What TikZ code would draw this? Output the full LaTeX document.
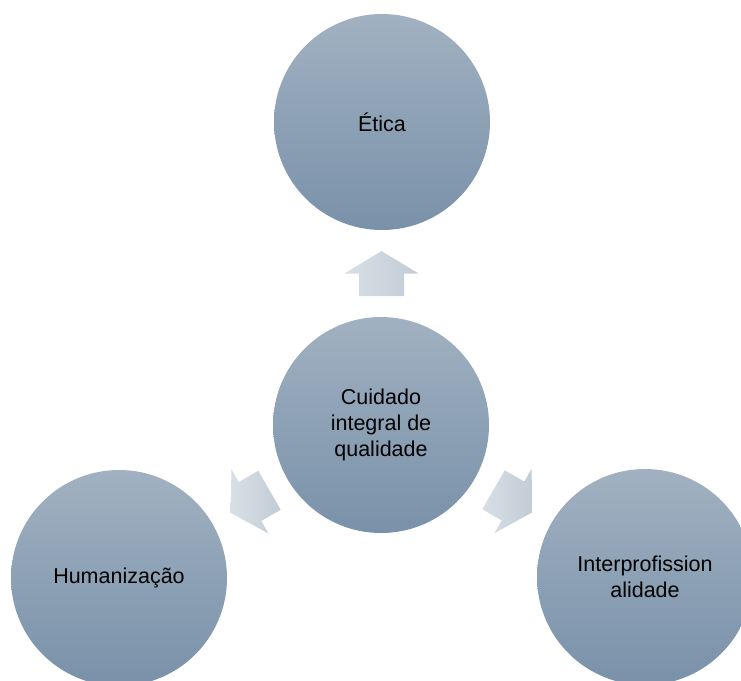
\documentclass[tikz,border=0pt]{standalone}
\usepackage{fontspec}
\setmainfont{Liberation Sans}
\usepackage{tikz}
\usetikzlibrary{calc}
\definecolor{circtop}{RGB}{161,177,193}
\definecolor{circbot}{RGB}{121,145,169}
\definecolor{arrlight}{RGB}{216,223,230}
\definecolor{arrdark}{RGB}{194,204,214}

\begin{document}
\begin{tikzpicture}[x=1pt,y=-1pt]
\tikzset{topic/.style = {shape=circle,minimum size=216pt,inner sep=0pt,align=center,
  top color=circtop,bottom color=circbot,font=\fontsize{21.5}{26}\selectfont}}
\tikzset{blockarrow/.pic = {\shade[left color=arrlight,right color=arrdark]
  (-22.5,-22.5) -- (0,-22.5) -- (0,-37) -- (22.5,0) -- (0,37) -- (0,22.5) -- (-22.5,22.5) -- cycle;}}
\clip (0,0) rectangle (741,680);
\node[topic](c) at (381,425) {Cuidado\\integral de\\qualidade};
\node[topic](e) at (382,122) {Ética};
\node[topic](h) at (119,578) {Humanização};
\node[topic](i) at (645,577) {Interprofission\\alidade};
\pic[rotate=90] at ($(c)!0.5!(e)$) {blockarrow};
\pic[rotate=210] at ($(c)!0.5!(h)$) {blockarrow};
\pic[rotate=-30] at ($(c)!0.5!(i)$) {blockarrow};
\end{tikzpicture}
\end{document}
